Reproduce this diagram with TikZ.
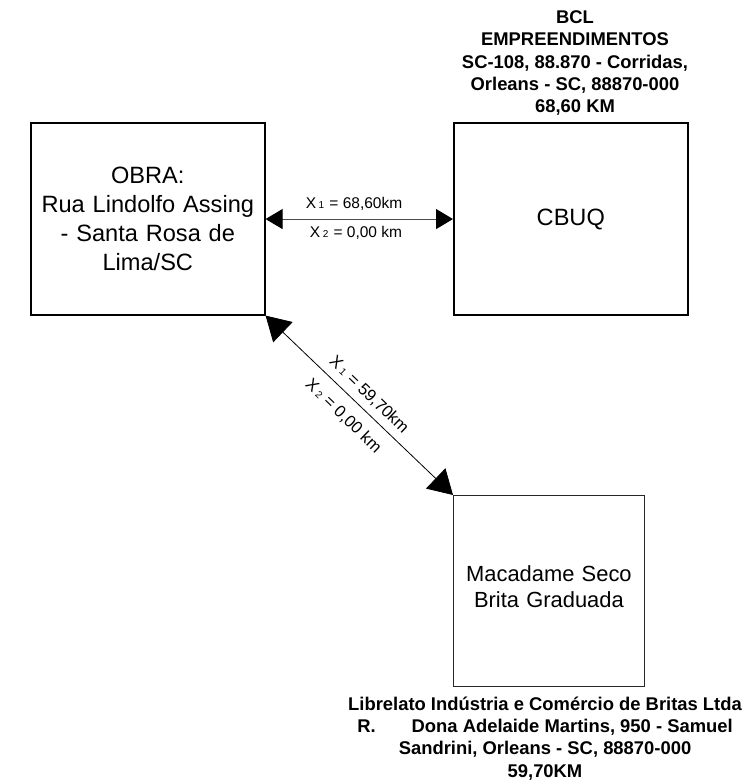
\documentclass[tikz,border=0pt]{standalone}
\usepackage{fontspec}
\setmainfont{Liberation Sans}
\usetikzlibrary{arrows.meta}
\tikzset{
  x=1pt,y=-1pt,
  thickbox/.style={draw=black,line width=1.6pt,minimum width=234pt,minimum height=191.5pt,align=center,inner sep=0pt,anchor=north west,font=\fontsize{23.6}{29}\selectfont},
  thinbox/.style={draw=black!85,line width=0.8pt,minimum width=191pt,minimum height=191pt,align=center,inner sep=0pt,anchor=north west,text=black,font=\fontsize{21.9}{26}\selectfont},
  caption/.style={align=center,inner sep=0pt,font=\bfseries\fontsize{18.4}{22.3}\selectfont},
  dist/.style={inner sep=0pt,font=\fontsize{15.5}{17}\selectfont},
  distd/.style={inner sep=0pt,rotate=-44,font=\fontsize{16.6}{20}\selectfont},
  linkh/.style={draw=black!70,line width=1.1pt,{Triangle[length=17pt,width=20pt,color=black]}-{Triangle[length=17pt,width=20pt,color=black]}},
  linkd/.style={draw=black,line width=0.8pt,{Triangle[length=24pt,width=28pt]}-{Triangle[length=24pt,width=28pt]}},
}
\newcommand{\subidx}[1]{\,{\fontsize{10}{10}\selectfont #1}\,\,}
\begin{document}
\begin{tikzpicture}
\useasboundingbox (0,0) rectangle (750,781);
\node[thickbox,text width=225pt] (obra) at (30,122.5) {OBRA:\\Rua Lindolfo Assing\\- Santa Rosa de\\Lima/SC};
\node[thickbox] (cbuq) at (453,122.5) {CBUQ};
\node[thinbox,text width=180pt] (mac) at (453,495) {Macadame Seco\\Brita Graduada\rule[-9pt]{0pt}{1pt}};
\node[caption] (c1) at (575,63) {BCL\\EMPREENDIMENTOS\\SC-108, 88.870 - Corridas,\\Orleans - SC, 88870-000\\68,60 KM};
\node[caption] (c2) at (545,738.5) {Librelato Indústria e Comércio de Britas Ltda\\R.\hspace{36pt}Dona Adelaide Martins, 950 - Samuel\\Sandrini, Orleans - SC, 88870-000\\59,70KM};
\draw[linkh] (obra.east) -- (cbuq.west);
\draw[linkd] (obra.south east) -- (mac.north west);
\node[dist] (l1) at (354,204) {X\subidx{1}= 68,60km};
\node[dist] (l2) at (356,233) {X\subidx{2}= 0,00 km};
\node[distd] (l3) at (369,395) {X\subidx{1}= 59,70km};
\node[distd] (l4) at (343.5,416) {X\subidx{2}= 0,00 km};
\end{tikzpicture}
\end{document}
